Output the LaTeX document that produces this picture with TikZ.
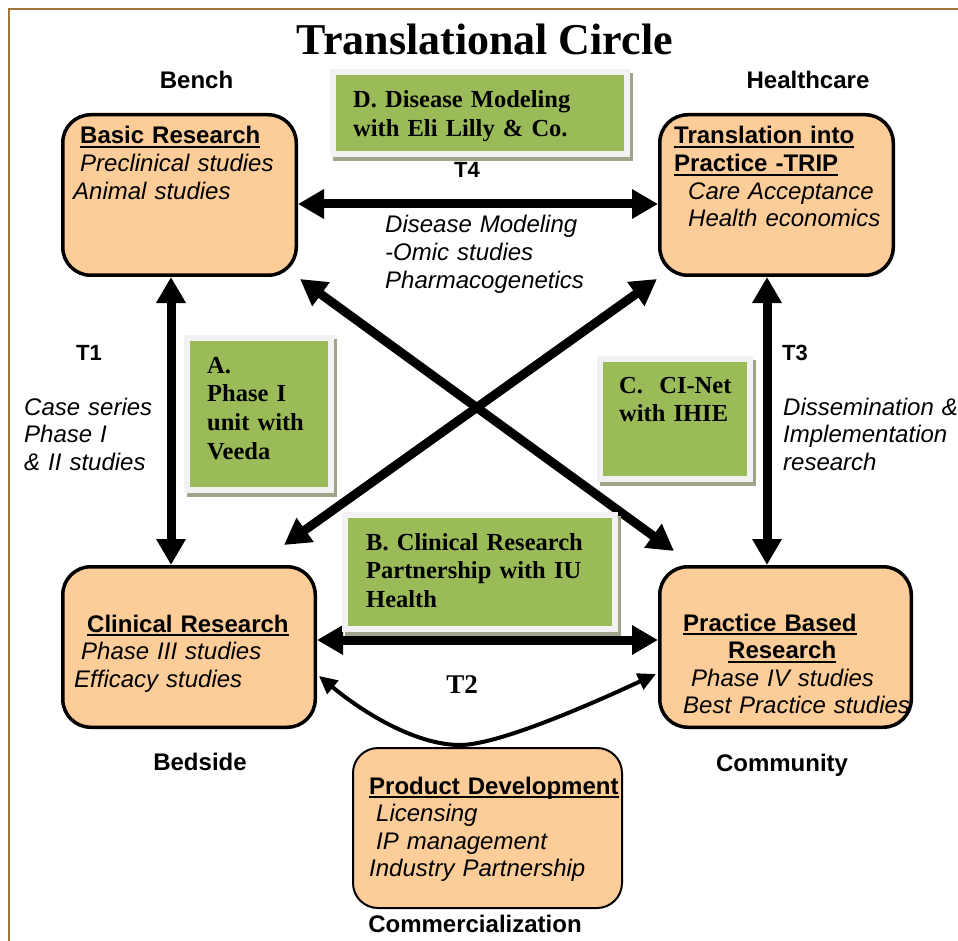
\documentclass[tikz,border=0pt]{standalone}
\usepackage{fontspec}
\setmainfont{Liberation Serif}
\newfontfamily\arial{Liberation Sans}
\usetikzlibrary{arrows.meta}
\definecolor{peach}{RGB}{252,204,153}
\definecolor{grn}{RGB}{155,187,89}
\definecolor{gframe}{RGB}{242,242,242}
\definecolor{gshadow}{RGB}{160,165,140}
\definecolor{brownframe}{RGB}{163,115,60}
\newcommand\myul[1]{\leavevmode\setbox0\hbox{#1}\rlap{\rule[-4pt]{\wd0}{1.8pt}}\box0}
\tikzset{
  pbox/.style={draw=black, fill=peach, line width=3.5pt, rounded corners=28pt, inner sep=0pt, minimum height=160.5pt},
  gbox/.style={fill=grn, draw=gframe, line width=6pt, inner sep=0pt,
    preaction={fill=gshadow, draw=gshadow, line width=6pt, transform canvas={xshift=3pt,yshift=-4pt}}},
  sanstext/.style={font=\arial\fontsize{24}{27.6}\selectfont, anchor=base west, inner sep=0pt, text width=260pt, align=left},
  greentext/.style={font=\fontsize{24.5}{28.8}\selectfont\bfseries, anchor=base west, inner sep=0pt, text width=280pt, align=left},
  lbl/.style={font=\arial\fontsize{24}{28}\selectfont\bfseries, anchor=base, inner sep=0pt},
  tlbl/.style={font=\arial\fontsize{22}{26}\selectfont\bfseries, anchor=base, inner sep=0pt},
  bigarrow/.style={line width=9pt, {Triangle[length=26pt,width=28pt]}-{Triangle[length=26pt,width=28pt]}},
  curvearrow/.style={line width=4pt, {Triangle[length=18pt,width=17pt]}-{Triangle[length=18pt,width=17pt]}},
}
\begin{document}
\begin{tikzpicture}[x=1pt,y=-1pt]
\useasboundingbox (0,0) rectangle (958,941);
\draw[brownframe, line width=2pt] (9,941) -- (9,9) -- (958,9);

\node[font=\fontsize{44}{48}\selectfont\bfseries, anchor=base, inner sep=0pt] (title) at (485,55) {Translational Circle};

\node[lbl] (bench) at (196.5,89) {Bench};
\node[lbl] (health) at (808,89) {Healthcare};
\node[lbl] (bedside) at (200,770) {Bedside};
\node[lbl] (community) at (782,771) {Community};
\node[lbl] (commerc) at (475,932) {Commercialization};

% main boxes
\node[pbox, minimum width=233.5pt] (basic) at (179.5,195) {};
\node[pbox, minimum width=233.5pt] (trip) at (776.5,195) {};
\node[pbox, minimum width=252.5pt] (clin) at (189,647) {};
\node[pbox, minimum width=251.5pt] (pbr) at (785.5,647) {};
\node[pbox, line width=2pt, rounded corners=25pt, minimum width=269pt, minimum height=160pt] (prod) at (487.5,828) {};

% arrows
\draw[bigarrow] ([yshift=-9pt]basic.east) -- ([yshift=-9pt]trip.west);
\draw[bigarrow] ([xshift=-8.5pt]basic.south) -- ([xshift=-18pt]clin.north);
\draw[bigarrow] ([xshift=-9.5pt]trip.south) -- ([xshift=-18.5pt]pbr.north);
\draw[bigarrow] ([yshift=7pt]clin.east) -- ([yshift=7pt]pbr.west);
\draw[bigarrow] ([xshift=2pt,yshift=-2pt]basic.south east) -- ([xshift=16pt,yshift=14pt]pbr.north west);
\draw[bigarrow] ([xshift=-33pt,yshift=20pt]clin.north east) -- ([xshift=-1pt,yshift=-2pt]trip.south west);
\coordinate (t2low) at (460,745);
\draw[curvearrow] ([xshift=2pt,yshift=-29pt]clin.east) .. controls (370,718) and (420,745) .. (t2low) .. controls (500,745) and (600,700) .. ([xshift=-2pt,yshift=-27pt]pbr.west);

% box texts
\node[sanstext] (basicT) at (73,144) {\hspace*{7pt}\myul{\textbf{Basic Research}}\\ \hspace*{7pt}\textit{Preclinical studies}\\ \textit{Animal studies}};
\node[sanstext] (tripT) at (674,144) {\myul{\textbf{Translation into}}\\ \myul{\textbf{Practice -TRIP}}\\ \hspace*{14pt}\textit{Care Acceptance}\\ \hspace*{14pt}\textit{Health economics}};
\node[sanstext] (clinT) at (74,632) {\hspace*{13pt}\myul{\textbf{Clinical Research}}\\ \hspace*{7pt}\textit{Phase III studies}\\ \textit{Efficacy studies}};
\node[sanstext] (pbrT) at (683,631) {\myul{\textbf{Practice Based}}\\ \hspace*{45pt}\myul{\textbf{Research}}\\ \hspace*{8pt}\textit{Phase IV studies}\\ \textit{Best Practice studies}};
\node[sanstext] (prodT) at (369,794) {\myul{\textbf{Product Development}}\\ \hspace*{7pt}\textit{Licensing}\\ \hspace*{7pt}\textit{IP management}\\ \textit{Industry Partnership}};

% arrow descriptions
\node[sanstext] (t4desc) at (385,233) {\itshape Disease Modeling\\ -Omic studies\\ Pharmacogenetics};
\node[sanstext] (t1desc) at (24,415) {\itshape Case series\\ Phase I\\ \& II studies};
\node[sanstext] (t3desc) at (783,415) {\itshape Dissemination \&\\ Implementation\\ research};
\node[tlbl] (t1) at (89,360) {T1};
\node[tlbl] (t3) at (795,360) {T3};
\node[tlbl] (t4) at (467,178) {T4};
\node[font=\fontsize{27}{30}\selectfont\bfseries, anchor=base, inner sep=0pt] (t2) at (462,693) {T2};

% green partner boxes
\node[gbox, minimum width=294pt, minimum height=82pt] (dbox) at (480,113) {};
\node[greentext] (dtext) at (353,108) {D. Disease Modeling\\ with Eli Lilly \& Co.};
\node[gbox, minimum width=144pt, minimum height=152pt] (abox) at (259,414) {};
\node[greentext] (atext) at (207,373) {A.\\ Phase I\\ unit with\\ Veeda};
\node[gbox, minimum width=270pt, minimum height=114pt] (bbox) at (480,572) {};
\node[greentext] (btext) at (366,550) {B. Clinical Research\\ Partnership with IU\\ Health};
\node[gbox, minimum width=150pt, minimum height=120pt] (cbox) at (675,419) {};
\node[greentext] (ctext) at (619,393) {C.\ \ CI-Net\\ with IHIE};
\end{tikzpicture}
\end{document}
